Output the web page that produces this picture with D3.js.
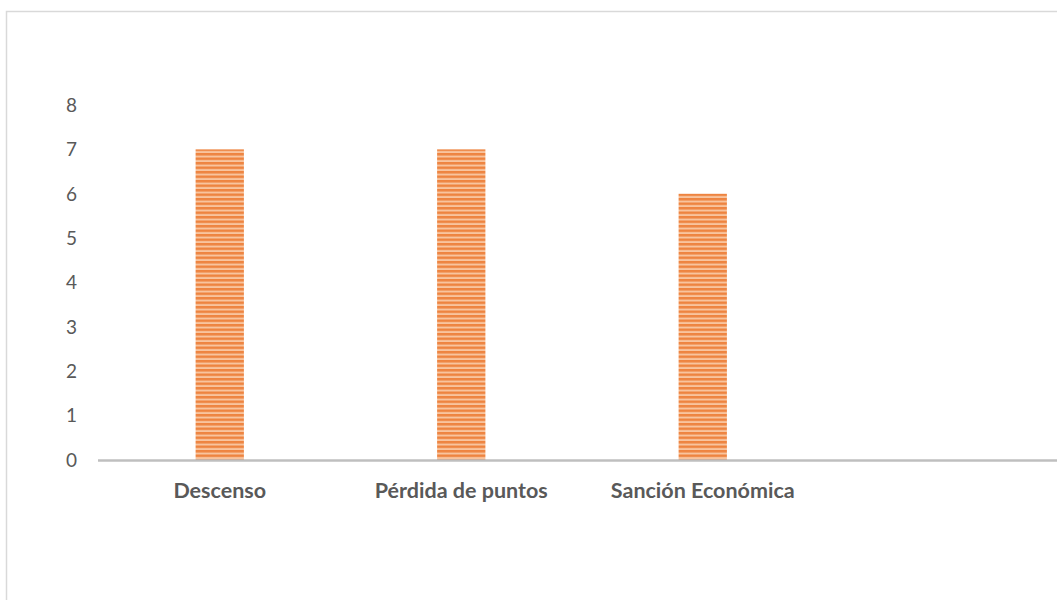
<!DOCTYPE html>
<html lang="es">
<head>
    <meta charset="UTF-8">
    <title>Sanciones</title>
    <script src="https://d3js.org/d3.v7.min.js"></script>
    <style>
        body { margin: 0; background: #fff; }
        text { font-family: Lato, "Open Sans", sans-serif; fill: #595959; }
    </style>
</head>
<body>
    <svg id="chart" width="1057" height="600"></svg>

    <script>
        // Data
        const categories = ["Descenso", "Pérdida de puntos", "Sanción Económica", ""];
        const values = [7, 7, 6, null];
        const yTicks = [0, 1, 2, 3, 4, 5, 6, 7, 8];

        const width = 1057;
        const height = 600;

        const svg = d3.select("#chart");

        // chart frame (runs off the right and bottom edge)
        svg.append("rect")
            .attr("x", 6.5)
            .attr("y", 11.5)
            .attr("width", 1100)
            .attr("height", 700)
            .attr("fill", "none")
            .attr("stroke", "#d9d9d9")
            .attr("stroke-width", 1.5);

        // striped fill
        const defs = svg.append("defs");
        const pat = defs.append("pattern")
            .attr("id", "stripes")
            .attr("patternUnits", "userSpaceOnUse")
            .attr("width", 8)
            .attr("height", 4.5);
        pat.append("rect").attr("width", 8).attr("height", 4.5).attr("fill", "#f8c49e");
        pat.append("rect").attr("width", 8).attr("height", 2.5).attr("fill", "#ee8440");

        const x = d3.scaleBand()
            .domain(categories.map((d, i) => i))
            .range([99, 1065])
            .paddingInner(0.8)
            .paddingOuter(0.4);

        const y = d3.scaleLinear()
            .domain([0, 8])
            .range([460, 105]);

        // y tick labels
        svg.append("g")
            .selectAll("text")
            .data(yTicks)
            .enter()
            .append("text")
            .attr("x", 77)
            .attr("y", (d) => y(d))
            .attr("dy", "0.36em")
            .attr("text-anchor", "end")
            .style("font-size", "19px")
            .text((d) => d);

        // bars
        svg.append("g")
            .selectAll("rect")
            .data(values.map((v, i) => ({ i, v })).filter((d) => d.v != null))
            .enter()
            .append("rect")
            .attr("x", (d) => x(d.i))
            .attr("y", (d) => y(d.v))
            .attr("width", x.bandwidth())
            .attr("height", (d) => y(0) - y(d.v))
            .attr("fill", "url(#stripes)");

        // baseline
        svg.append("line")
            .attr("x1", 98)
            .attr("x2", width)
            .attr("y1", y(0) + 0.5)
            .attr("y2", y(0) + 0.5)
            .attr("stroke", "#bfbfbf")
            .attr("stroke-width", 2.5);

        // category labels
        svg.append("g")
            .selectAll("text")
            .data(categories)
            .enter()
            .append("text")
            .attr("x", (d, i) => x(i) + x.bandwidth() / 2)
            .attr("y", 498)
            .attr("text-anchor", "middle")
            .style("font-size", "21.5px")
            .style("font-weight", "bold")
            .text((d) => d);
    </script>
</body>
</html>
